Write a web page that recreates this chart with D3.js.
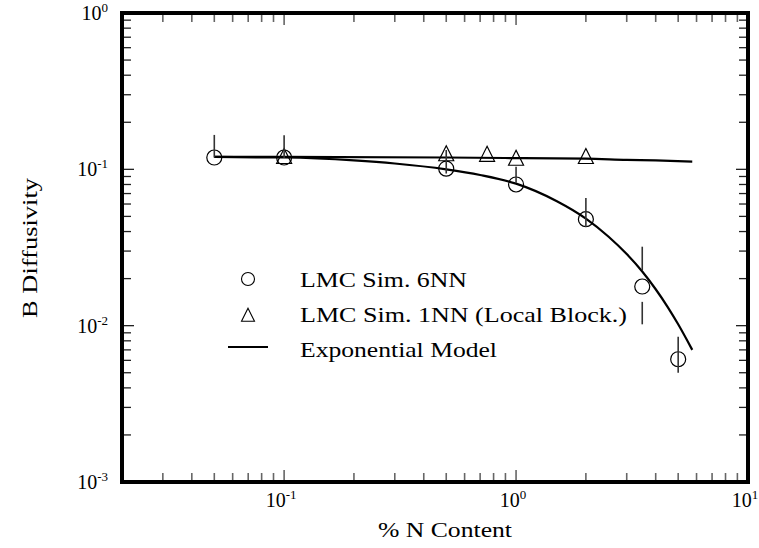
<!DOCTYPE html>
<html>
<head>
<meta charset="utf-8">
<script src="https://cdn.jsdelivr.net/npm/d3@7"></script>
<style>
  html, body { margin: 0; padding: 0; background: #fff; }
  svg { display: block; font-family: "Liberation Serif", "Times New Roman", serif; }
</style>
</head>
<body>
<svg id="chart" width="759" height="548"></svg>
<script>
// LMC simulation, 6 nearest neighbours (circles)
const nn6Content = [0.05, 0.1, 0.5, 1.0, 2.0, 3.5, 5.0];
const nn6Diff    = [0.119, 0.119, 0.101, 0.080, 0.048, 0.0178, 0.0061];
// error bar segments for the 6NN points: [content, upper, lower]
const nn6ErrSegments = [
  [0.05, 0.166, 0.119],
  [0.1, 0.165, 0.118],
  [0.5, 0.133, 0.094],
  [1.0, 0.104, 0.082],
  [2.0, 0.0655, 0.0428],
  [3.5, 0.032, 0.0227],
  [3.5, 0.0142, 0.0102],
  [5.0, 0.0085, 0.0050]
];

// LMC simulation, 1 nearest neighbour with local blocking (triangles)
const nn1Content = [0.1, 0.5, 0.75, 1.0, 2.0];
const nn1Diff    = [0.119, 0.124, 0.123, 0.116, 0.119];

// exponential model curves
const modelHiContent = [0.05, 0.1, 0.5, 1.0, 2.0, 3.0, 4.0, 5.75];
const modelHiDiff    = [0.120, 0.120, 0.119, 0.118, 0.117, 0.115, 0.114, 0.112];
const modelLoContent = [0.05, 0.1, 0.2, 0.3, 0.5, 0.7, 1.0, 1.5, 2.0, 2.5, 3.0, 3.5, 4.0, 4.5, 5.0, 5.75];
const modelLoDiff    = [0.120, 0.119, 0.114, 0.109, 0.100, 0.092, 0.081, 0.0625, 0.0484, 0.0372, 0.0287, 0.0222, 0.0171, 0.0132, 0.0102, 0.0070];

const xMajor = [0.1, 1, 10];
const xMajorExp = ["-1", "0", "1"];
const yMajor = [1, 0.1, 0.01, 0.001];
const yMajorExp = ["0", "-1", "-2", "-3"];

const legendLabels = ["LMC Sim. 6NN", "LMC Sim. 1NN (Local Block.)", "Exponential Model"];
const legendWidths = [167, 327, 197];

const svg = d3.select("#chart");
const L = 122, R = 748, T = 13, B = 482;

const x = d3.scaleLog().domain([0.02, 10]).range([L, R]);
const y = d3.scaleLog().domain([0.001, 1]).range([B, T]);

const isMajor = v => Math.abs(Math.log10(v) - Math.round(Math.log10(v))) < 1e-9;
const xTickVals = x.ticks();
const yTickVals = y.ticks();
const len = v => isMajor(v) ? 12 : 9;

// inward tick marks on all four sides
const xTickG = svg.append("g").attr("stroke", "#666").attr("stroke-width", 1.6);
xTickG.selectAll("line.xb").data(xTickVals).join("line").attr("class", "xb")
  .attr("x1", d => x(d)).attr("x2", d => x(d)).attr("y1", B).attr("y2", d => B - len(d));
xTickG.selectAll("line.xt").data(xTickVals).join("line").attr("class", "xt")
  .attr("x1", d => x(d)).attr("x2", d => x(d)).attr("y1", T).attr("y2", d => T + len(d));
const yTickG = svg.append("g").attr("stroke", "#222").attr("stroke-width", 1.3);
yTickG.selectAll("line.yl").data(yTickVals).join("line").attr("class", "yl")
  .attr("y1", d => y(d)).attr("y2", d => y(d)).attr("x1", L).attr("x2", d => L + len(d));
yTickG.selectAll("line.yr").data(yTickVals).join("line").attr("class", "yr")
  .attr("y1", d => y(d)).attr("y2", d => y(d)).attr("x1", R).attr("x2", d => R - len(d));

// frame
svg.append("rect")
  .attr("x", L).attr("y", T).attr("width", R - L).attr("height", B - T)
  .attr("fill", "none").attr("stroke", "#000").attr("stroke-width", 4);

// tick labels with superscript exponents
function power(g, exp, anchor) {
  const t = g.append("text").attr("font-size", 20).attr("text-anchor", anchor).attr("fill", "#000");
  t.append("tspan").text("10");
  t.append("tspan").attr("font-size", 13).attr("dy", -8).text(exp);
  return t;
}
xMajor.forEach((v, i) => {
  const g = svg.append("g").attr("transform", `translate(${x(v) - 3},${507})`);
  power(g, xMajorExp[i], "middle");
});
yMajor.forEach((v, i) => {
  const g = svg.append("g").attr("transform", `translate(${108},${y(v) + 7})`);
  power(g, yMajorExp[i], "end");
});

// axis titles
svg.append("text").attr("x", 445).attr("y", 537)
  .attr("text-anchor", "middle").attr("font-size", 21)
  .attr("textLength", 134).attr("lengthAdjust", "spacingAndGlyphs").text("% N Content");
svg.append("text")
  .attr("transform", `translate(37,${248}) rotate(-90)`)
  .attr("text-anchor", "middle").attr("font-size", 21)
  .attr("textLength", 140).attr("lengthAdjust", "spacingAndGlyphs").text("B Diffusivity");

// model curves
const lineGen = d3.line().x(d => x(d[0])).y(d => y(d[1])).curve(d3.curveMonotoneX);
svg.append("path").datum(d3.zip(modelHiContent, modelHiDiff))
  .attr("d", lineGen).attr("fill", "none").attr("stroke", "#000").attr("stroke-width", 2.2);
svg.append("path").datum(d3.zip(modelLoContent, modelLoDiff))
  .attr("d", lineGen).attr("fill", "none").attr("stroke", "#000").attr("stroke-width", 2.2);

// 6NN circles
svg.append("g").selectAll("circle").data(d3.zip(nn6Content, nn6Diff)).join("circle")
  .attr("cx", d => x(d[0])).attr("cy", d => y(d[1])).attr("r", 7.5)
  .attr("fill", "none").attr("stroke", "#000").attr("stroke-width", 1.2);

// 1NN triangles
const tri = (cx, cy, s) => `M${cx},${cy - s * 0.6}L${cx + s / 2},${cy + s * 0.4}L${cx - s / 2},${cy + s * 0.4}Z`;
svg.append("g").selectAll("path").data(d3.zip(nn1Content, nn1Diff)).join("path")
  .attr("d", d => tri(x(d[0]), y(d[1]), 15))
  .attr("fill", "none").attr("stroke", "#000").attr("stroke-width", 1.2);

// error bars
svg.append("g").selectAll("line").data(nn6ErrSegments).join("line")
  .attr("x1", d => x(d[0])).attr("x2", d => x(d[0]))
  .attr("y1", d => y(d[1])).attr("y2", d => y(d[2]))
  .attr("stroke", "#333").attr("stroke-width", 1.6);

// legend
const leg = svg.append("g");
leg.append("circle").attr("cx", 248).attr("cy", 279).attr("r", 6.5)
  .attr("fill", "none").attr("stroke", "#000").attr("stroke-width", 1.1);
leg.append("path").attr("d", tri(248, 316, 13))
  .attr("fill", "none").attr("stroke", "#000").attr("stroke-width", 1.1);
leg.append("line").attr("x1", 228).attr("x2", 268).attr("y1", 347).attr("y2", 347)
  .attr("stroke", "#000").attr("stroke-width", 2);
legendLabels.forEach((t, i) => {
  leg.append("text").attr("x", 300).attr("y", 287 + i * 35)
    .attr("font-size", 21)
    .attr("textLength", legendWidths[i]).attr("lengthAdjust", "spacingAndGlyphs")
    .text(t);
});
</script>
</body>
</html>
